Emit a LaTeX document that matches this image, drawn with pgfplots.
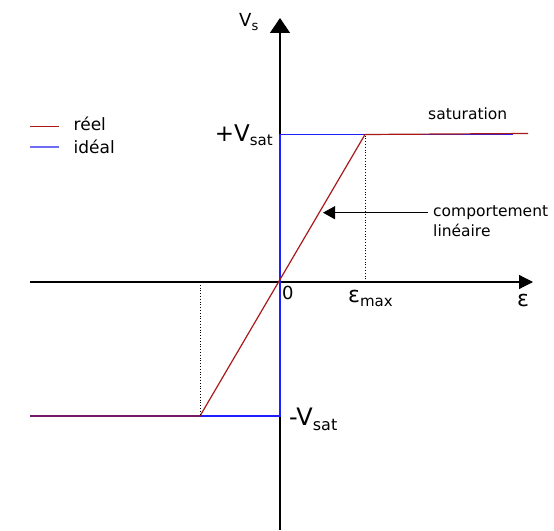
\documentclass[border=0pt]{standalone}
\usepackage{fontspec}
\setmainfont{DejaVu Sans}
\usepackage{pgfplots}
\pgfplotsset{compat=1.18}
\usetikzlibrary{arrows.meta}
\definecolor{reel}{RGB}{170,25,25}
\definecolor{ideal}{RGB}{30,30,255}
\definecolor{ideallg}{RGB}{110,110,245}
\newcommand\fs[1]{\fontsize{#1}{#1}\selectfont}
\newcommand\Sub[3]{\raisebox{-#2pt}{\fs{#1}#3}}
\begin{document}
\begin{tikzpicture}
\begin{axis}[
  hide axis, scale only axis, width=554pt, height=530pt,
  xmin=-280, xmax=274, ymin=-248, ymax=282,
  clip=false,
  legend style={at={(axis cs:-251,166)}, anchor=north west, draw=none, fill=none,
    font=\fs{17}, inner sep=0pt, row sep=6pt,
    nodes={inner sep=1pt},
    /tikz/every odd column/.append style={column sep=13pt}},
  legend cell align=left,
]
\path (rel axis cs:0,0) rectangle (rel axis cs:1,1);
% axes
\draw[line width=1.2pt, -{Triangle[length=14pt,width=14pt]}] (axis cs:-250,0) -- (axis cs:253,0);
\draw[line width=1.2pt, -{Triangle[length=15pt,width=20pt]}] (axis cs:0,-248) -- (axis cs:0,264);
% legend
\addlegendimage{legend image code/.code={\draw[reel, line width=1.2pt] (0pt,-2pt) -- (29pt,-2pt);}}
\addlegendentry{réel}
\addlegendimage{legend image code/.code={\draw[ideallg, line width=1.5pt] (0pt,1pt) -- (29pt,1pt);}}
\addlegendentry{idéal}
% data
\addplot[ideal, line width=1.3pt, forget plot] coordinates {(-250,-134) (0,-134) (0,147.5) (233,147.5)};
\addplot[reel, line width=1.2pt, forget plot] coordinates {(-250,-134) (-80,-134) (85,147.5) (248,148.5)};
\addplot[dotted, line width=0.8pt, forget plot] coordinates {(-80,0) (-80,-134)};
\addplot[dotted, line width=0.8pt, forget plot] coordinates {(85,0) (85,147.5)};
% annotation arrow
\draw[line width=1.1pt, -{Triangle[length=12pt,width=13pt]}] (axis cs:148,69.3) -- (axis cs:43,69.3);
% labels
\node[anchor=base west, inner sep=0pt] at (axis cs:-41,255) {\fs{18}V\Sub{13}{4}{s}};
\node[anchor=base east, inner sep=0pt] at (axis cs:-7,140) {\fs{23}+V\Sub{15}{4}{sat}};
\node[anchor=base west, inner sep=0pt] at (axis cs:9,-143) {\fs{24}-V\Sub{16}{5}{sat}};
\node[anchor=base west, inner sep=0pt] at (axis cs:2,-18) {\fs{18}0};
\node[anchor=base west, inner sep=0pt] at (axis cs:68,-21) {\fs{22}ε\Sub{15}{4}{max}};
\node[anchor=base west, inner sep=0pt] at (axis cs:237,-25) {\fs{22}ε};
\node[anchor=base west, inner sep=0pt] at (axis cs:148,162) {\fs{15.5}saturation};
\node[anchor=base west, inner sep=0pt] at (axis cs:153,65) {\fs{15.5}comportement};
\node[anchor=base west, inner sep=0pt] at (axis cs:153,45) {\fs{15.5}linéaire};
\end{axis}
\end{tikzpicture}
\end{document}
